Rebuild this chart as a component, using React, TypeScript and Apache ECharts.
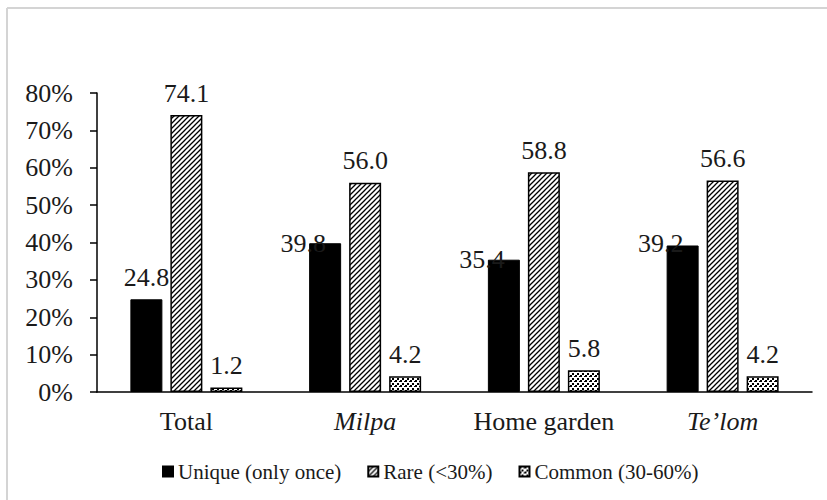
import React, { useEffect, useRef } from "react";
import * as echarts from "echarts";

const categories = ["Total", "Milpa", "Home garden", "Te\u2019lom"];
const italicCategories = [false, true, false, true];
const uniqueValues = [24.8, 39.8, 35.4, 39.2];
const rareValues = [74.1, 56.0, 58.8, 56.6];
const commonValues = [1.2, 4.2, 5.8, 4.2];
const seriesNames = ["Unique (only once)", "Rare (<30%)", "Common (30-60%)"];
const yMin = 0;
const yMax = 80;
const yStep = 10;

// label placement tweaks for the "Unique" labels that sit beside their bars
const uniqueLabelOffsets: Array<[number, number]> = [
  [0, 0],
  [-22, 22],
  [-22, 22],
  [-22, 20],
];

const FONT = "'Liberation Serif', 'Times New Roman', serif";

function makeHatch(): HTMLCanvasElement {
  const c = document.createElement("canvas");
  c.width = 5;
  c.height = 5;
  const ctx = c.getContext("2d")!;
  ctx.fillStyle = "#ffffff";
  ctx.fillRect(0, 0, 5, 5);
  ctx.strokeStyle = "#000000";
  ctx.lineWidth = 1.3;
  ctx.beginPath();
  ctx.moveTo(-1, 6);
  ctx.lineTo(6, -1);
  ctx.moveTo(-1, 1);
  ctx.lineTo(1, -1);
  ctx.moveTo(4, 6);
  ctx.lineTo(6, 4);
  ctx.stroke();
  return c;
}

function makeDots(): HTMLCanvasElement {
  const c = document.createElement("canvas");
  c.width = 5;
  c.height = 5;
  const ctx = c.getContext("2d")!;
  ctx.fillStyle = "#ffffff";
  ctx.fillRect(0, 0, 5, 5);
  ctx.fillStyle = "#000000";
  ctx.fillRect(0, 0, 2, 2);
  ctx.fillRect(2, 3, 2, 2);
  ctx.fillRect(4, 1, 1, 1);
  return c;
}

export default function App() {
  const ref = useRef<HTMLDivElement>(null);

  useEffect(() => {
    if (!ref.current) return;
    const chart = echarts.init(ref.current, undefined, { renderer: "svg" });
    const hatchPattern: any = { image: makeHatch(), repeat: "repeat" };
    const dotPattern: any = { image: makeDots(), repeat: "repeat" };

    const richText = { t: { fontFamily: FONT, fontSize: 26, color: "#1a1a1a" } };

    const labelBase = {
      show: true,
      position: "top" as const,
      distance: 9,
      fontFamily: FONT,
      fontSize: 26,
      color: "#1a1a1a",
      formatter: (p: any) => `{t|${Number(p.value).toFixed(1)}}`,
      rich: richText,
    };

    const option: any = {
      animation: false,
      backgroundColor: "#ffffff",
      textStyle: { fontFamily: FONT },
      graphic: [
        {
          type: "line",
          shape: { x1: 7, y1: 8, x2: 827, y2: 8 },
          style: { stroke: "#d4d4d4", lineWidth: 2 },
          silent: true,
        },
        {
          type: "line",
          shape: { x1: 7, y1: 8, x2: 7, y2: 500 },
          style: { stroke: "#d4d4d4", lineWidth: 2 },
          silent: true,
        },
      ],
      grid: { left: 97, right: 15, top: 93, bottom: 108, containLabel: false },
      legend: {
        bottom: 13,
        left: 157,
        itemWidth: 10,
        itemHeight: 10,
        itemGap: 26,
        icon: "rect",
        formatter: (n: string) => `{l|${n}}`,
        textStyle: {
          fontFamily: FONT,
          fontSize: 21,
          color: "#1a1a1a",
          rich: { l: { fontFamily: FONT, fontSize: 21, color: "#1a1a1a" } },
        },
        data: seriesNames,
      },
      xAxis: {
        type: "category",
        data: categories,
        axisLine: { show: true, lineStyle: { color: "#000000", width: 1.5 } },
        axisTick: { show: false },
        axisLabel: {
          interval: 0,
          margin: 16,
          fontFamily: FONT,
          fontSize: 26,
          color: "#1a1a1a",
          formatter: (v: string) => {
            const i = categories.indexOf(v);
            return italicCategories[i] ? `{i|${v}}` : `{n|${v}}`;
          },
          rich: {
            i: { fontFamily: FONT, fontSize: 26, fontStyle: "italic", color: "#1a1a1a" },
            n: { fontFamily: FONT, fontSize: 26, color: "#1a1a1a" },
          },
        },
      },
      yAxis: {
        type: "value",
        min: yMin,
        max: yMax,
        interval: yStep,
        splitLine: { show: false },
        axisLine: { show: true, lineStyle: { color: "#000000", width: 1.5 } },
        axisTick: { show: true, length: 7, lineStyle: { color: "#000000", width: 1.5 } },
        axisLabel: {
          margin: 24,
          fontFamily: FONT,
          fontSize: 26,
          color: "#1a1a1a",
          formatter: (v: number) => `{t|${v}%}`,
          rich: richText,
        },
      },
      series: [
        {
          name: seriesNames[0],
          type: "bar",
          barWidth: 32,
          barGap: "25%",
          itemStyle: { color: "#000000", borderColor: "#000000", borderWidth: 1 },
          label: labelBase,
          data: uniqueValues.map((v, i) => ({
            value: v,
            label: { offset: uniqueLabelOffsets[i] },
          })),
        },
        {
          name: seriesNames[1],
          type: "bar",
          barWidth: 32,
          barGap: "25%",
          itemStyle: { color: hatchPattern, borderColor: "#000000", borderWidth: 1.5 },
          label: labelBase,
          data: rareValues,
        },
        {
          name: seriesNames[2],
          type: "bar",
          barWidth: 32,
          barGap: "25%",
          itemStyle: { color: dotPattern, borderColor: "#000000", borderWidth: 1.5 },
          label: labelBase,
          data: commonValues,
        },
      ],
    };
    chart.setOption(option);
    return () => chart.dispose();
  }, []);

  return (
    <div
      ref={ref}
      style={{ position: "fixed", left: 0, top: 0, width: 827, height: 500, background: "#fff" }}
    />
  );
}
